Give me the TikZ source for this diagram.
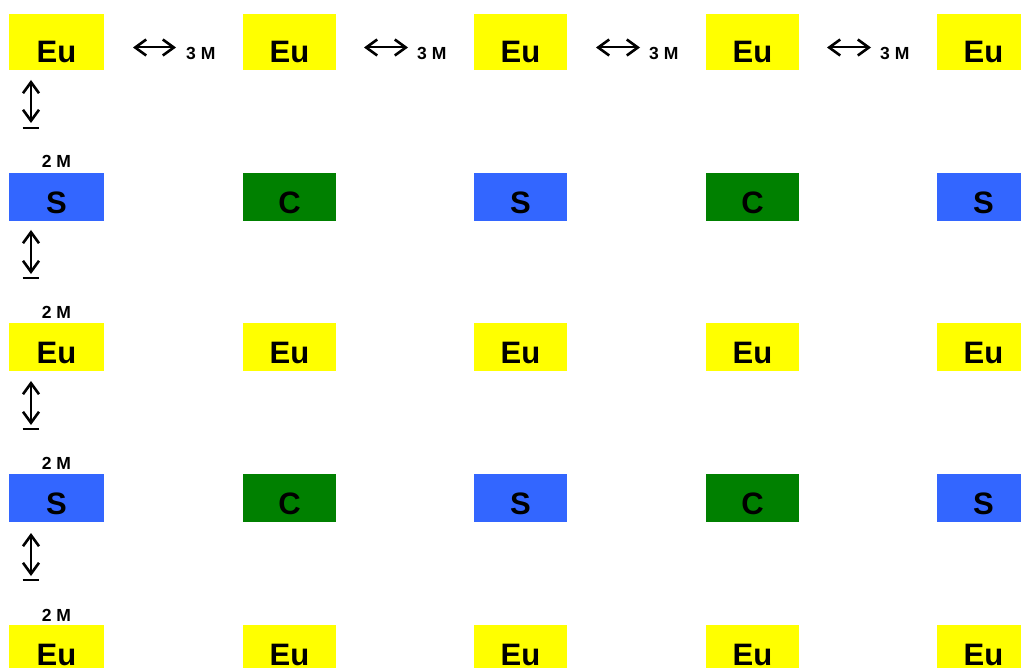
\documentclass[tikz,border=0pt]{standalone}
\usepackage{fontspec}
\setmainfont{Liberation Sans}
\usetikzlibrary{arrows.meta}
\definecolor{euyel}{HTML}{FFFF00}
\definecolor{sblue}{HTML}{3366FF}
\definecolor{cgreen}{HTML}{008000}
\tikzset{
  cell/.style={draw=none, inner sep=0pt, minimum width=93pt, minimum height=48pt,
    font=\fontsize{31}{31}\selectfont\bfseries, text height=33pt, text depth=0pt},
  toprow/.style={minimum height=56pt, text height=42pt},
  wide/.style={minimum width=95pt},
  eu/.style={cell, fill=euyel},
  sb/.style={cell, fill=sblue},
  cg/.style={cell, fill=cgreen},
  dist/.style={inner sep=0pt, font=\fontsize{17.5}{17.5}\selectfont\bfseries},
  gap/.style={line width=2pt, {Straight Barb[length=11pt,width=16pt,line width=2.6pt]}-{Straight Barb[length=11pt,width=16pt,line width=2.6pt]}},
  basebar/.style={line width=2.2pt},
}
\begin{document}
\begin{tikzpicture}[x=1pt,y=-1pt]
\useasboundingbox (0,0) rectangle (1021,668);
\clip (0,0) rectangle (1021,668);
% row 1
\node[eu,toprow,wide] (r1c1) at (56.5,42) {Eu};
\node[eu,toprow] (r1c2) at (289.5,42) {Eu};
\node[eu,toprow] (r1c3) at (520.5,42) {Eu};
\node[eu,toprow] (r1c4) at (752.5,42) {Eu};
\node[eu,toprow] (r1c5) at (983.5,42) {Eu};
% row 2
\node[sb,wide] (r2c1) at (56.5,197) {S};
\node[cg] (r2c2) at (289.5,197) {C};
\node[sb] (r2c3) at (520.5,197) {S};
\node[cg] (r2c4) at (752.5,197) {C};
\node[sb] (r2c5) at (983.5,197) {S};
% row 3
\node[eu,wide] (r3c1) at (56.5,347) {Eu};
\node[eu] (r3c2) at (289.5,347) {Eu};
\node[eu] (r3c3) at (520.5,347) {Eu};
\node[eu] (r3c4) at (752.5,347) {Eu};
\node[eu] (r3c5) at (983.5,347) {Eu};
% row 4
\node[sb,wide] (r4c1) at (56.5,498) {S};
\node[cg] (r4c2) at (289.5,498) {C};
\node[sb] (r4c3) at (520.5,498) {S};
\node[cg] (r4c4) at (752.5,498) {C};
\node[sb] (r4c5) at (983.5,498) {S};
% row 5
\node[eu,wide] (r5c1) at (56.5,649) {Eu};
\node[eu] (r5c2) at (289.5,649) {Eu};
\node[eu] (r5c3) at (520.5,649) {Eu};
\node[eu] (r5c4) at (752.5,649) {Eu};
\node[eu] (r5c5) at (983.5,649) {Eu};
% horizontal gap markers
\foreach \i/\a/\b/\l in {1/133/176/186, 2/364/408/417, 3/596/640/649, 4/827/871/880}{
  \coordinate (ha\i) at (\a,47.5);
  \coordinate (hb\i) at (\b,47.5);
  \draw[gap] (ha\i) -- (hb\i);
  \node[dist, anchor=base west] (hl\i) at (\l,60) {3 M};
}
% vertical gap markers
\foreach \i/\t/\e/\bar/\lab in {1/80/123/128/168, 2/230/274/278/319, 3/381/425/429/470, 4/533/576/580/621}{
  \coordinate (vt\i) at (31,\t);
  \coordinate (ve\i) at (31,\e);
  \coordinate (bl\i) at (22.7,\bar);
  \coordinate (br\i) at (39.3,\bar);
  \draw[gap] (vt\i) -- (ve\i);
  \draw[basebar] (bl\i) -- (br\i);
  \node[dist, anchor=base] (vl\i) at (56.5,\lab) {2 M};
}
\end{tikzpicture}
\end{document}
